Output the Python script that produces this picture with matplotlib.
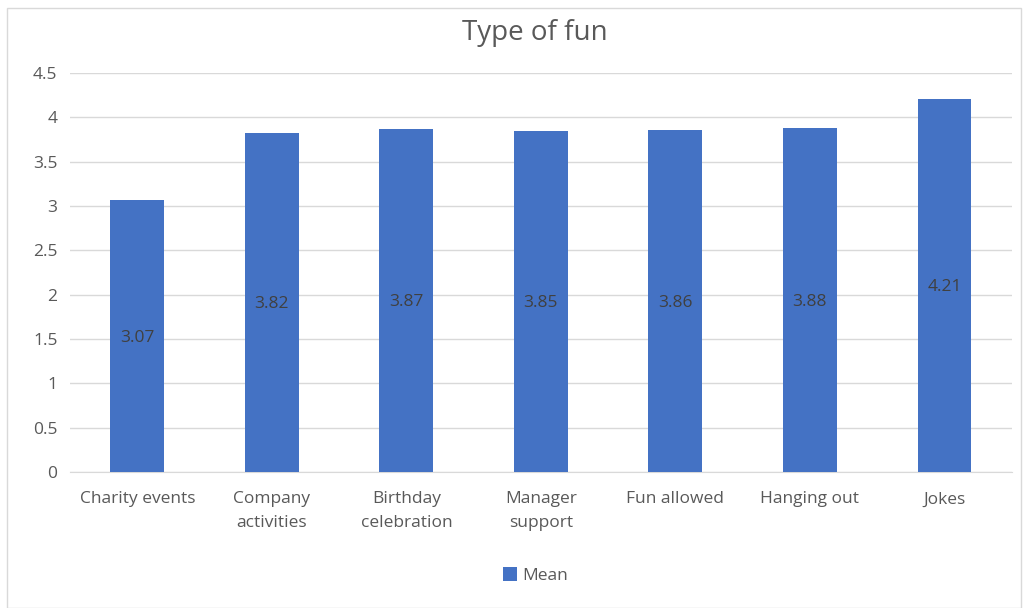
import matplotlib.pyplot as plt
from matplotlib.patches import Rectangle

categories = ["Charity events", "Company\nactivities", "Birthday\ncelebration",
              "Manager\nsupport", "Fun allowed", "Hanging out", "Jokes"]
means = [3.07, 3.82, 3.87, 3.85, 3.86, 3.88, 4.21]
yticks = [0, 0.5, 1, 1.5, 2, 2.5, 3, 3.5, 4, 4.5]
ytick_labels = ["0", "0.5", "1", "1.5", "2", "2.5", "3", "3.5", "4", "4.5"]

plt.rcParams['font.family'] = ['Open Sans', 'DejaVu Sans']

fig = plt.figure(figsize=(10.24, 6.08), dpi=100)
ax = fig.add_axes([0.0684, 0.2237, 0.9196, 0.6563])

x = range(len(categories))
bars = ax.bar(x, means, width=0.4, color='#4472C4', zorder=3, label='Mean')
for b, v in zip(bars, means):
    ax.text(b.get_x() + b.get_width() / 2, v / 2 - 0.02, "%.2f" % v,
            ha='center', va='center', fontsize=12.5, color='#404040', zorder=4)

ax.set_xlim(-0.5, len(categories) - 0.5)
ax.set_ylim(0, 4.5)
ax.set_yticks(yticks)
ax.set_yticklabels(ytick_labels)
ax.set_xticks(list(x))
ax.set_xticklabels(categories, linespacing=1.65)
ax.tick_params(axis='both', length=0, labelsize=12.5, colors='#595959')
ax.tick_params(axis='x', pad=14)
ax.tick_params(axis='y', pad=9)
ax.grid(axis='y', color='#D9D9D9', linewidth=1, zorder=0)
for s in ['top', 'right', 'left']:
    ax.spines[s].set_visible(False)
ax.spines['bottom'].set_color('#D9D9D9')

fig.text(0.5225, 0.945, "Type of fun", ha='center', va='center',
         fontsize=20, color='#595959')

leg = fig.legend(handles=[bars], labels=['Mean'], loc='center',
                 bbox_to_anchor=(0.523, 0.054), frameon=False, fontsize=12.5,
                 handlelength=0.85, handleheight=0.85, handletextpad=0.3)
for t in leg.get_texts():
    t.set_color('#595959')

fig.patches.append(Rectangle((0.007, 0.0), 0.99, 0.987, transform=fig.transFigure,
                             fill=False, edgecolor='#D9D9D9', linewidth=1))

fig.savefig('out.png', dpi=100)
